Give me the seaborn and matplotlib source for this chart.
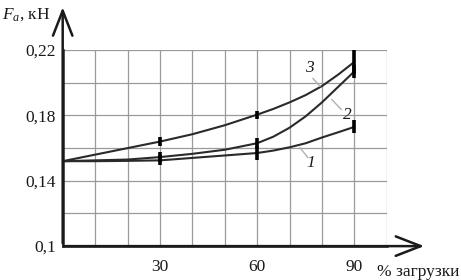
import matplotlib
matplotlib.use("Agg")
import matplotlib.pyplot as plt
from matplotlib.patches import FancyArrowPatch
import pandas as pd
import seaborn as sns

# загрузка, %
load = [0, 10, 20, 30, 40, 50, 60, 65, 70, 75, 80, 85, 90]
# F, кН for curves 1..3
f1 = [0.152, 0.152, 0.1522, 0.1525, 0.154, 0.1555, 0.157, 0.1585, 0.1605,
      0.163, 0.1665, 0.1697, 0.173]
f2 = [0.152, 0.1525, 0.153, 0.1545, 0.1565, 0.159, 0.163, 0.167, 0.1725,
      0.1795, 0.188, 0.1975, 0.207]
f3 = [0.152, 0.156, 0.160, 0.164, 0.1685, 0.174, 0.1805, 0.184, 0.188,
      0.1925, 0.198, 0.205, 0.2128]

# measured points with spread
meas_x = [30, 60, 90]
meas1 = [0.1525, 0.157, 0.173]
err1 = [0.003, 0.004, 0.004]
meas2 = [0.1545, 0.163, 0.207]
err2 = [0.003, 0.003, 0.004]
meas3 = [0.164, 0.1805, 0.2128]
err3 = [0.003, 0.0025, 0.0075]

yticks = [0.1, 0.14, 0.18, 0.22]
ytick_labels = ["0,1", "0,14", "0,18", "0,22"]
xticks = [30, 60, 90]

sns.set_theme(style="white")
plt.rcParams["font.family"] = ["Liberation Serif", "DejaVu Serif"]
plt.rcParams["mathtext.fontset"] = "custom"
plt.rcParams["mathtext.it"] = "Liberation Serif:italic"
plt.rcParams["mathtext.rm"] = "Liberation Serif"

fig = plt.figure(figsize=(4.61, 2.80), dpi=100)
ax = fig.add_axes([0.136, 0.121, 0.703, 0.700])

n = len(load)
df = pd.DataFrame({"load": load * 3, "F": f1 + f2 + f3,
                   "curve": ["1"] * n + ["2"] * n + ["3"] * n})
sns.lineplot(data=df, x="load", y="F", units="curve", estimator=None,
             color="#2a2a2a", lw=1.5, ax=ax, legend=False)

for m, e in [(meas1, err1), (meas2, err2), (meas3, err3)]:
    ax.errorbar(meas_x, m, yerr=e, fmt="none", ecolor="black",
                elinewidth=2.6, capsize=0, zorder=4)

ax.set_xlim(0, 100)
ax.set_ylim(0.1, 0.22)
ax.set_xticks(xticks)
ax.set_xticks(range(10, 101, 10), minor=True)
ax.set_yticks(yticks)
ax.set_yticklabels(ytick_labels)
ax.set_yticks([0.12, 0.16, 0.20, 0.22], minor=True)
ax.grid(True, which="both", color="#9a9a9a", lw=0.9)
ax.tick_params(which="both", length=0, labelsize=12.5, colors="#1a1a1a")
ax.tick_params(axis="x", pad=9)
ax.tick_params(axis="y", pad=5)
ax.set_xlabel("")
ax.set_ylabel("")
for s in ["top", "right"]:
    ax.spines[s].set_visible(False)
for s in ["left", "bottom"]:
    ax.spines[s].set_color("#1a1a1a")
    ax.spines[s].set_linewidth(1.8)

# axis arrows
for start, end in [((0, 0), (0, 1.233)), ((0, 0), (1.124, 0))]:
    arr = FancyArrowPatch(start, end, transform=ax.transAxes,
                          arrowstyle="->,head_length=1.8,head_width=0.7",
                          mutation_scale=10, lw=1.8, color="#1a1a1a",
                          clip_on=False)
    ax.add_patch(arr)

# curve labels with leaders
labels = [("3", (76.0, 0.2089), (77.2, 0.2027), (79.4, 0.1978)),
          ("2", (87.9, 0.1800), (83.0, 0.1898), (86.0, 0.1836)),
          ("1", (76.6, 0.1510), (73.2, 0.1603), (75.7, 0.1541))]
for txt, pos, a, b in labels:
    ax.plot([a[0], b[0]], [a[1], b[1]], color="#b0b0b0", lw=1.0, zorder=3)
    ax.text(pos[0], pos[1], txt, style="italic", fontsize=12.5,
            ha="center", va="center", color="#1a1a1a")

fig.text(2 / 461, 1 - 15 / 280, "$F_a$, кН", fontsize=12.5,
         ha="left", va="center", color="#1a1a1a")
fig.text(459 / 461, 1 - 272 / 280, "% загрузки", fontsize=12.5,
         ha="right", va="center", color="#1a1a1a")

fig.savefig("out.png", dpi=100)
